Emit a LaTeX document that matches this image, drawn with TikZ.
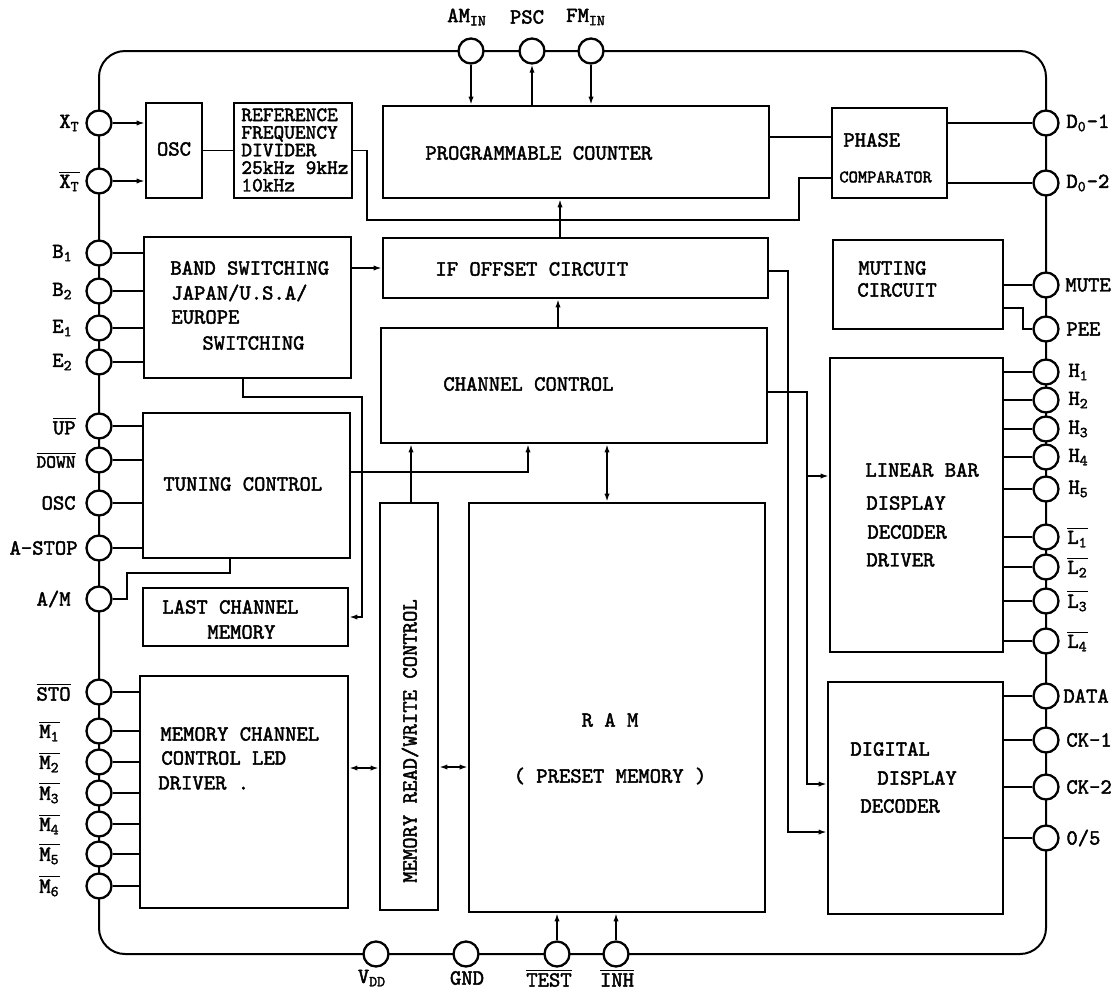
\documentclass[tikz,border=0pt]{standalone}
\usepackage{fontspec}
\usetikzlibrary{arrows.meta,fit}
\newfontfamily\twf{lmmono10-regular.otf}[FakeBold=2]
\newcommand{\ovl}[1]{\ensuremath{\overline{\mbox{#1}}}}
\begin{document}
\begin{tikzpicture}[x=0.5pt,y=-0.5pt,
  blockbox/.style={draw, line width=1.3pt, inner sep=0pt},
  pinc/.style={circle, draw, line width=1.15pt, fill=white, minimum size=12.5pt, inner sep=0pt},
  wire/.style={line width=0.75pt},
  arr/.style={wire, -{Latex[length=4pt,width=2.6pt]}},
  darr/.style={wire, {Latex[length=4pt,width=2.6pt]}-{Latex[length=4pt,width=2.6pt]}},
  txt/.style={font=\fontsize{10.8}{12}\selectfont\twf, inner sep=0pt, anchor=west},
  smalltxt/.style={font=\fontsize{8.8}{10}\selectfont\twf, inner sep=0pt, anchor=west},
  plbl/.style={font=\fontsize{10.8}{12}\selectfont\twf, inner sep=0pt}
]
\useasboundingbox (0,0) rectangle (1117,991);
% outer package outline
\draw[line width=1pt, rounded corners=13pt] (99,51) rectangle (1046,954);

% blocks
\node[blockbox, fit={(146,103) (202,198)}] (osc) {};
\node[blockbox, fit={(234,103) (352,198)}] (ref) {};
\node[blockbox, fit={(383,106) (769,198)}] (cnt) {};
\node[blockbox, fit={(832,108) (947,198)}] (phc) {};
\node[blockbox, fit={(383,238) (768,298)}] (ifo) {};
\node[blockbox, fit={(144,237) (351,378)}] (band) {};
\node[blockbox, fit={(833,240) (1003,329)}] (mut) {};
\node[blockbox, fit={(381,328) (767,443)}] (chc) {};
\node[blockbox, fit={(143,413) (350,558)}] (tun) {};
\node[blockbox, fit={(830,358) (1003,652)}] (lbar) {};
\node[blockbox, fit={(143,588) (348,646)}] (lcm) {};
\node[blockbox, fit={(380,503) (438,910)}] (mrw) {};
\node[blockbox, fit={(469,503) (765,912)}] (ram) {};
\node[blockbox, fit={(140,676) (348,908)}] (mcc) {};
\node[blockbox, fit={(828,682) (1003,914)}] (ddd) {};

% block texts
\node[txt, anchor=center] (tosc) at (174,149) {OSC};
\node[txt, anchor=north west, align=left, font=\fontsize{10.2}{8.8}\selectfont\twf] (tref) at (241,108) {REFERENCE\\FREQUENCY\\DIVIDER\\25kHz 9kHz\\10kHz};
\node[txt] (tcnt) at (425,153) {PROGRAMMABLE COUNTER};
\node[txt] (tphc1) at (843,140) {PHASE};
\node[smalltxt] (tphc2) at (839,177) {COMPARATOR};
\node[txt] (tifo) at (435,269) {IF OFFSET CIRCUIT};
\node[txt] (tband1) at (170,268) {BAND SWITCHING};
\node[txt] (tband2) at (171,293) {JAPAN/U.S.A/};
\node[txt] (tband3) at (171,317) {EUROPE};
\node[txt] (tband4) at (202,343) {SWITCHING};
\node[txt] (tmut1) at (858,268) {MUTING};
\node[txt] (tmut2) at (857,290) {CIRCUIT};
\node[txt] (tchc) at (443,384) {CHANNEL CONTROL};
\node[txt] (ttun) at (163,484) {TUNING CONTROL};
\node[txt] (tlbar1) at (865,470) {LINEAR BAR};
\node[txt] (tlbar2) at (866,503) {DISPLAY};
\node[txt] (tlbar3) at (867,532) {DECODER};
\node[txt] (tlbar4) at (866,560) {DRIVER};
\node[txt] (tlcm1) at (162,607) {LAST CHANNEL};
\node[txt] (tlcm2) at (207,632) {MEMORY};
\node[txt, anchor=center, rotate=90] (tmrw) at (410,741) {MEMORY READ/WRITE CONTROL};
\node[txt, anchor=center] (tram1) at (610,720) {R A M};
\node[txt, anchor=center] (tram2) at (610,776) {( PRESET MEMORY )};
\node[txt] (tmcc1) at (160,734) {MEMORY CHANNEL};
\node[txt] (tmcc2) at (161,758) {CONTROL LED};
\node[txt] (tmcc3) at (158,783) {DRIVER .};
\node[txt] (tddd1) at (850,749) {DIGITAL};
\node[txt] (tddd2) at (877,778) {DISPLAY};
\node[txt] (tddd3) at (860,806) {DECODER};

% pins left
\foreach \n/\y in {xt/123, xtb/181, b1/253, b2/291, e1/328, e2/362, up/426, down/460, oscp/503, astop/548, amsel/599, sto/692, m1/731, m2/762, m3/793, m4/824, m5/854, m6/886}
  \node[pinc] (\n) at (99,\y) {};
% pins top
\foreach \n/\x in {am/471, psc/532, fm/591}
  \node[pinc] (\n) at (\x,51) {};
% pins right
\foreach \n/\y in {d01/123, d02/183, mute/285, pee/329, h1/372, h2/400, h3/429, h4/457, h5/489, l1/537, l2/567, l3/601, l4/641, data/696, ck1/740, ck2/787, o5/838}
  \node[pinc] (\n) at (1046,\y) {};
% pins bottom
\foreach \n/\x in {vdd/376, gnd/466, test/557, inh/616}
  \node[pinc] (\n) at (\x,954) {};

% pin labels left
\node[plbl, anchor=east] (lxt) at (80,123) {X\textsubscript{T}};
\node[plbl, anchor=east] (lxtb) at (80,181) {\ovl{X\textsubscript{T}}};
\node[plbl, anchor=east] (lb1) at (73,253) {B\textsubscript{1}};
\node[plbl, anchor=east] (lb2) at (73,291) {B\textsubscript{2}};
\node[plbl, anchor=east] (le1) at (73,328) {E\textsubscript{1}};
\node[plbl, anchor=east] (le2) at (73,362) {E\textsubscript{2}};
\node[plbl, anchor=east] (lup) at (76,426) {\ovl{UP}};
\node[plbl, anchor=east, font=\fontsize{9.3}{10}\selectfont\twf] (ldown) at (76,460) {\ovl{DOWN}};
\node[plbl, anchor=east] (loscp) at (76,503) {OSC};
\node[plbl, anchor=east] (lastop) at (78,548) {A-STOP};
\node[plbl, anchor=east] (lamsel) at (71,599) {A/M};
\node[plbl, anchor=east] (lsto) at (71,692) {\ovl{STO}};
\node[plbl, anchor=east] (lm1) at (60,731) {\ovl{M\textsubscript{1}}};
\node[plbl, anchor=east] (lm2) at (60,762) {\ovl{M\textsubscript{2}}};
\node[plbl, anchor=east] (lm3) at (60,793) {\ovl{M\textsubscript{3}}};
\node[plbl, anchor=east] (lm4) at (60,824) {\ovl{M\textsubscript{4}}};
\node[plbl, anchor=east] (lm5) at (60,854) {\ovl{M\textsubscript{5}}};
\node[plbl, anchor=east] (lm6) at (60,886) {\ovl{M\textsubscript{6}}};
% pin labels top
\node[plbl] (lam) at (467,17) {AM\textsubscript{IN}};
\node[plbl] (lpsc) at (527,17) {PSC};
\node[plbl] (lfm) at (586,17) {FM\textsubscript{IN}};
% pin labels right
\node[plbl, anchor=west] (ld01) at (1066,123) {D\textsubscript{0}-1};
\node[plbl, anchor=west] (ld02) at (1066,183) {D\textsubscript{0}-2};
\node[plbl, anchor=west] (lmute) at (1065,285) {MUTE};
\node[plbl, anchor=west] (lpee) at (1066,329) {PEE};
\node[plbl, anchor=west] (lh1) at (1068,372) {H\textsubscript{1}};
\node[plbl, anchor=west] (lh2) at (1068,400) {H\textsubscript{2}};
\node[plbl, anchor=west] (lh3) at (1068,429) {H\textsubscript{3}};
\node[plbl, anchor=west] (lh4) at (1068,457) {H\textsubscript{4}};
\node[plbl, anchor=west] (lh5) at (1068,489) {H\textsubscript{5}};
\node[plbl, anchor=west] (ll1) at (1067,537) {\ovl{L\textsubscript{1}}};
\node[plbl, anchor=west] (ll2) at (1067,567) {\ovl{L\textsubscript{2}}};
\node[plbl, anchor=west] (ll3) at (1067,601) {\ovl{L\textsubscript{3}}};
\node[plbl, anchor=west] (ll4) at (1067,641) {\ovl{L\textsubscript{4}}};
\node[plbl, anchor=west] (ldata) at (1063,696) {DATA};
\node[plbl, anchor=west] (lck1) at (1066,740) {CK-1};
\node[plbl, anchor=west] (lck2) at (1066,787) {CK-2};
\node[plbl, anchor=west] (lo5) at (1066,838) {0/5};
% pin labels bottom
\node[plbl] (lvdd) at (372,978) {V\textsubscript{DD}};
\node[plbl] (lgnd) at (467,978) {GND};
\node[plbl] (ltest) at (549,978) {\ovl{TEST}};
\node[plbl] (linh) at (617,978) {\ovl{INH}};

% connectors
\draw[arr] (xt) -- (xt -| osc.west);
\draw[arr] (xtb) -- (xtb -| osc.west);
\draw[wire] (osc.east) -- (ref.west);
\draw[wire] (ref.east) -| (367,220) -| (799,178) -- (phc.west |- 0,178);
\draw[wire] (cnt.east |- 0,137) -- (phc.west |- 0,137);
\draw[wire] (phc.east |- d01) -- (d01);
\draw[wire] (phc.east |- d02) -- (d02);
\draw[arr] (am) -- (am |- cnt.north);
\draw[arr] (psc |- cnt.north) -- (psc);
\draw[arr] (fm) -- (fm |- cnt.north);
\draw[arr] (ifo.north -| 560,0) -- (cnt.south -| 560,0);
\draw[arr] (chc.north -| 558,0) -- (ifo.south -| 558,0);
\draw[arr] (band.east |- 0,268) -- (ifo.west |- 0,268);
\draw[arr] (band.south -| 243,0) |- (362,397) |- (lcm.east);
\foreach \p in {b1,b2,e1,e2} \draw[wire] (\p) -- (\p -| band.west);
\foreach \p in {up,down,oscp,astop} \draw[wire] (\p) -- (\p -| tun.west);
\draw[wire] (tun.south -| 230,0) |- (127,573) |- (amsel);
\draw[arr] (tun.east |- 0,472) -| (chc.south -| 528,0);
\draw[arr] (mrw.north -| 411,0) -- (chc.south -| 411,0);
\draw[darr] (chc.south -| 607,0) -- (ram.north -| 607,0);
\draw[darr] (mcc.east |- 0,768) -- (mrw.west |- 0,768);
\draw[darr] (mrw.east |- 0,767) -- (ram.west |- 0,767);
\draw[arr] (test) -- (test |- ram.south);
\draw[arr] (inh) -- (inh |- ram.south);
\foreach \p in {sto,m1,m2,m3,m4,m5,m6} \draw[wire] (\p) -- (\p -| mcc.west);
\draw[wire] (mut.east |- mute) -- (mute);
\draw[wire] (mut.east |- 0,308) -| (1023,329) -- (pee);
\foreach \p in {h1,h2,h3,h4,h5,l1,l2,l3,l4} \draw[wire] (\p) -- (\p -| lbar.east);
\foreach \p in {data,ck1,ck2,o5} \draw[wire] (\p) -- (\p -| ddd.east);
\draw[arr] (ifo.east |- 0,271) -| (788,832) -- (ddd.west |- 0,832);
\coordinate (jn) at (807,476);
\draw[arr] (chc.east |- 0,392) -| (jn) -- (lbar.west |- jn);
\draw[arr] (jn) |- (ddd.west |- 0,784);
\end{tikzpicture}
\end{document}
